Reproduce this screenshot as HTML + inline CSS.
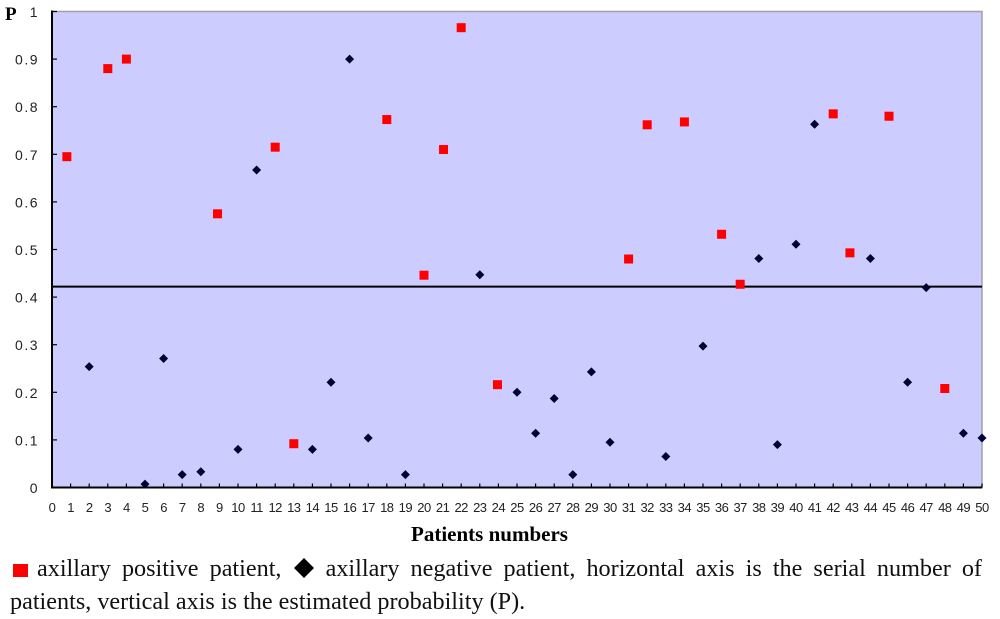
<!DOCTYPE html>
<html>
<head>
<meta charset="utf-8">
<style>
html,body{margin:0;padding:0;background:#fff;}
body{width:1000px;height:619px;position:relative;overflow:hidden;font-family:"Liberation Serif",serif;}
svg{position:absolute;left:0;top:0;}
.cap{position:absolute;font-size:24.2px;line-height:26px;color:#111;white-space:nowrap;}
#line1{left:37px;top:556px;width:945px;white-space:normal;text-align:justify;text-align-last:justify;}
#line2{left:10px;top:589px;}
</style>
</head>
<body>
<svg id="chart" width="1000" height="619" viewBox="0 0 1000 619"></svg>
<div class="cap" id="line1">axillary positive patient, <span style="display:inline-block;width:22px"></span> axillary negative patient, horizontal axis is the serial number of</div>
<div class="cap" id="line2">patients, vertical axis is the estimated probability (P).</div>
<script>
const xTickLabels = ["0","1","2","3","4","5","6","7","8","9","10","11","12","13","14","15","16","17","18","19","20","21","22","23","24","25","26","27","28","29","30","31","32","33","34","35","36","37","38","39","40","41","42","43","44","45","46","47","48","49","50"];
const yTickLabels = ["0","0.1","0.2","0.3","0.4","0.5","0.6","0.7","0.8","0.9","1"];
const positivePatients = [0.8,3,4,8.9,12,13,18,20,21.05,22,23.95,31,32,34,36,37,42,42.9,45,48];
const positiveProb = [0.695,0.88,0.9,0.575,0.715,0.092,0.773,0.446,0.71,0.966,0.216,0.48,0.762,0.768,0.532,0.427,0.785,0.493,0.78,0.208];
const negativePatients = [2,5,6,7,8,10,11,14,15,16,17,19,23,25,26,27,28,29,30,33,35,38,39,40,41,44,46,47,49,50];
const negativeProb = [0.254,0.007,0.271,0.027,0.033,0.08,0.667,0.08,0.221,0.9,0.104,0.027,0.447,0.2,0.114,0.187,0.027,0.243,0.095,0.065,0.297,0.481,0.09,0.511,0.763,0.481,0.221,0.42,0.114,0.104];
const cutoff = [0.422];

const NS = "http://www.w3.org/2000/svg";
const svg = document.getElementById("chart");
const X0 = 52, X1 = 982, Y0 = 487.5, Y1 = 11.5;
function sx(v){ return X0 + (X1 - X0) * v / 50; }
function sy(v){ return Y0 - (Y0 - Y1) * v; }
function mk(tag, attrs, text){
  const el = document.createElementNS(NS, tag);
  for (const k in attrs) el.setAttribute(k, attrs[k]);
  if (text !== undefined) el.textContent = text;
  svg.appendChild(el);
  return el;
}

const plot = mk("rect", {x:X0, y:Y1, width:X1-X0, height:Y0-Y1, fill:"#ccccff", stroke:"#a0a0a8", "stroke-width":1.5});



const yAxis = mk("line", {x1:X0, y1:Y1-1, x2:X0, y2:Y0+1, stroke:"#000", "stroke-width":2});


const xAxis = mk("line", {x1:X0-1, y1:Y0, x2:X1, y2:Y0, stroke:"#000", "stroke-width":2});



xTickLabels.forEach((lab, i) => {
  const t = mk("line", {x1:sx(i), y1:Y0, x2:sx(i), y2:Y0-4, stroke:"#000", "stroke-width":1.2});
  
  
  const l = mk("text", {x:sx(i), y:512, "text-anchor":"middle", "font-family":"Liberation Sans, sans-serif", "font-size":13, "letter-spacing":-0.5, fill:"#222"}, lab);
  
  
});
yTickLabels.forEach((lab, i) => {
  const v = i / (yTickLabels.length - 1);
  const t = mk("line", {x1:X0, y1:sy(v), x2:X0+5, y2:sy(v), stroke:"#000", "stroke-width":1.2});
  
  
  const l = mk("text", {x:39, y:sy(v)+5.5, "text-anchor":"end", "font-family":"Liberation Sans, sans-serif", "font-size":14, "letter-spacing":1.5, fill:"#222"}, lab);
  
  
});

const cut = mk("line", {x1:X0, y1:sy(cutoff[0]), x2:X1, y2:sy(cutoff[0]), stroke:"#000", "stroke-width":2});



positivePatients.forEach((p, i) => {
  const s = 9;
  const m = mk("rect", {x:sx(p)-s/2, y:sy(positiveProb[i])-s/2, width:s, height:s, fill:"#ff0000"});
  
  
});
negativePatients.forEach((p, i) => {
  const r = 4.5, cx = sx(p), cy = sy(negativeProb[i]);
  const m = mk("polygon", {points:`${cx},${cy-r} ${cx+r},${cy} ${cx},${cy+r} ${cx-r},${cy}`, fill:"#000033"});
  
  
});

const py = mk("text", {x:5, y:20, "font-family":"Liberation Serif, serif", "font-weight":"bold", "font-size":19, fill:"#000"}, "P");


const px = mk("text", {x:489.5, y:541, "text-anchor":"middle", "font-family":"Liberation Serif, serif", "font-weight":"bold", "font-size":21, fill:"#000"}, "Patients numbers");



const ls = mk("rect", {x:13, y:564, width:15, height:13, fill:"#ff0000"});


const ld = mk("polygon", {points:"304,558 314,568 304,578 294,568", fill:"#000"});


</script>
</body>
</html>
